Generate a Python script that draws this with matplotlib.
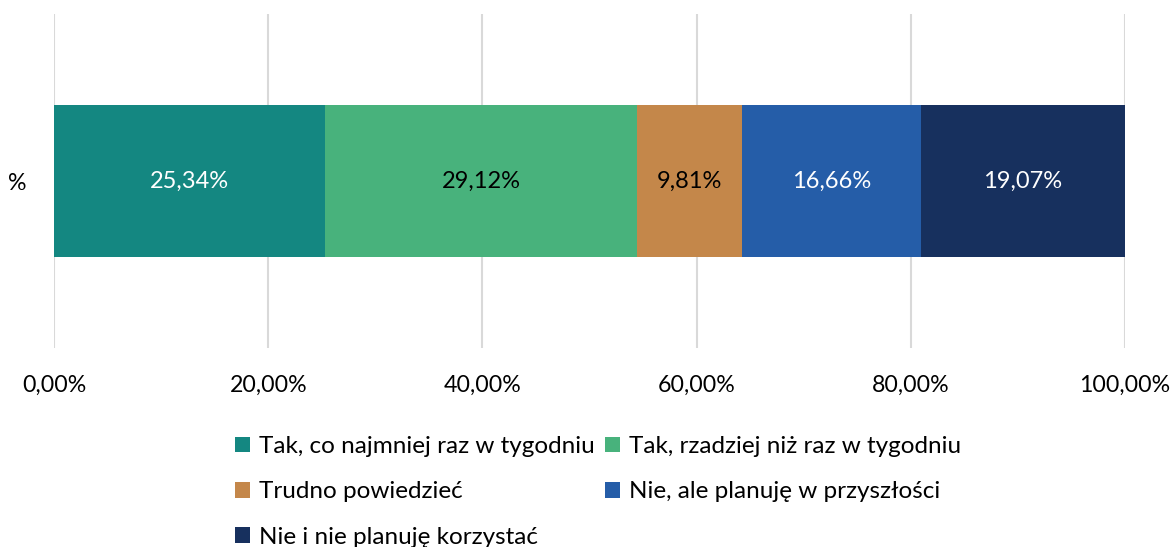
import matplotlib
matplotlib.use("Agg")
import matplotlib.pyplot as plt
from matplotlib.patches import Patch
from matplotlib.ticker import FuncFormatter

plt.rcParams['font.family'] = ['Lato', 'DejaVu Sans']

category = ['%']
series_names = [
    'Tak, co najmniej raz w tygodniu',
    'Tak, rzadziej niż raz w tygodniu',
    'Trudno powiedzieć',
    'Nie, ale planuję w przyszłości',
    'Nie i nie planuję korzystać',
]
values = [25.34, 29.12, 9.81, 16.66, 19.07]
colors = ['#148781', '#48B27C', '#C4874A', '#255DA8', '#17305E']
label_colors = ['white', 'black', 'black', 'white', 'white']
xticks = [0, 20, 40, 60, 80, 100]

fig = plt.figure(figsize=(11.74, 5.47), dpi=100)
ax = fig.add_axes([54 / 1174, 1 - 348 / 547, (1125 - 54) / 1174, (348 - 14) / 547])

left = 0.0
for name, v, c, lc in zip(series_names, values, colors, label_colors):
    b = ax.barh(category, [v], left=[left], height=0.458, color=c, label=name, zorder=3)
    ax.bar_label(b, labels=[f'{v:.2f}%'.replace('.', ',')], label_type='center',
                 color=lc, fontsize=17)
    left += v

ax.set_xlim(0, 100)
ax.set_ylim(-0.5, 0.5)
ax.set_xticks(xticks)
ax.xaxis.set_major_formatter(FuncFormatter(lambda x, p: f'{x:.2f}%'.replace('.', ',')))
ax.grid(axis='x', color='#D9D9D9', linewidth=1.5, zorder=0)
ax.tick_params(axis='x', length=0, labelsize=16.7, pad=19)
ax.tick_params(axis='y', length=0, labelsize=16.7, pad=19.5)
for s in ax.spines.values():
    s.set_visible(False)

order = [0, 2, 4, 1, 3]
handles = [Patch(facecolor=colors[i]) for i in order]
labels = [series_names[i] for i in order]
fig.legend(handles, labels, ncol=2, loc='upper left',
           bbox_to_anchor=(223 / 1174, 1 - 424 / 547),
           frameon=False, fontsize=17.5, handlelength=0.62, handleheight=0.62,
           handletextpad=0.35, columnspacing=0.45, labelspacing=1.0, borderpad=0)

fig.savefig('out.png', dpi=100)
